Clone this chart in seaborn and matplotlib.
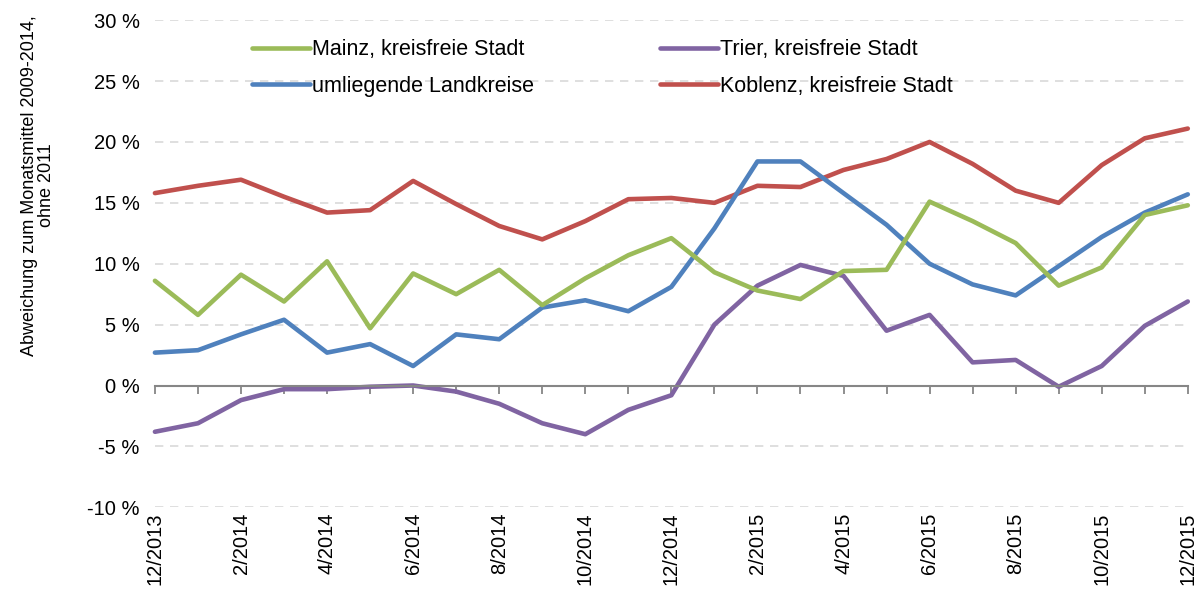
import numpy as np
import pandas as pd
import matplotlib
matplotlib.use("Agg")
import matplotlib.pyplot as plt
import seaborn as sns

# ── Data ─────────────────────────────────────────────────────────────────────
MONTHS = ["12/2013", "1/2014", "2/2014", "3/2014", "4/2014", "5/2014", "6/2014",
          "7/2014", "8/2014", "9/2014", "10/2014", "11/2014", "12/2014",
          "1/2015", "2/2015", "3/2015", "4/2015", "5/2015", "6/2015",
          "7/2015", "8/2015", "9/2015", "10/2015", "11/2015", "12/2015"]

MAINZ = [8.6, 5.8, 9.1, 6.9, 10.2, 4.7, 9.2, 7.5, 9.5, 6.6, 8.8, 10.7, 12.1,
         9.3, 7.8, 7.1, 9.4, 9.5, 15.1, 13.5, 11.7, 8.2, 9.7, 14.0, 14.8]
TRIER = [-3.8, -3.1, -1.2, -0.3, -0.3, -0.1, 0.0, -0.5, -1.5, -3.1, -4.0, -2.0, -0.8,
         5.0, 8.2, 9.9, 9.0, 4.5, 5.8, 1.9, 2.1, -0.1, 1.6, 4.9, 6.9]
LANDKREISE = [2.7, 2.9, 4.2, 5.4, 2.7, 3.4, 1.6, 4.2, 3.8, 6.4, 7.0, 6.1, 8.1,
              12.9, 18.4, 18.4, 15.8, 13.2, 10.0, 8.3, 7.4, 9.8, 12.2, 14.2, 15.7]
KOBLENZ = [15.8, 16.4, 16.9, 15.5, 14.2, 14.4, 16.8, 14.9, 13.1, 12.0, 13.5, 15.3, 15.4,
           15.0, 16.4, 16.3, 17.7, 18.6, 20.0, 18.2, 16.0, 15.0, 18.1, 20.3, 21.1]

SERIES = {
    "Mainz, kreisfreie Stadt": MAINZ,
    "umliegende Landkreise": LANDKREISE,
    "Trier, kreisfreie Stadt": TRIER,
    "Koblenz, kreisfreie Stadt": KOBLENZ,
}
COLORS = {
    "Mainz, kreisfreie Stadt": "#9BBB59",
    "umliegende Landkreise": "#4F81BD",
    "Trier, kreisfreie Stadt": "#8064A2",
    "Koblenz, kreisfreie Stadt": "#C0504D",
}
# draw order (back to front)
DRAW_ORDER = ["Koblenz, kreisfreie Stadt", "Trier, kreisfreie Stadt",
              "umliegende Landkreise", "Mainz, kreisfreie Stadt"]

# ── Style ────────────────────────────────────────────────────────────────────
sns.set_theme(style="white")
plt.rcParams["font.family"] = ["Liberation Sans", "DejaVu Sans"]
plt.rcParams["text.color"] = "black"
plt.rcParams["xtick.color"] = "black"
plt.rcParams["ytick.color"] = "black"
plt.rcParams["axes.labelcolor"] = "black"
FS = 14.5

rows = []
for name, vals in SERIES.items():
    for i, v in enumerate(vals):
        rows.append({"pos": i, "month": MONTHS[i], "value": v, "series": name})
df = pd.DataFrame(rows)

fig, ax = plt.subplots(figsize=(12.01, 5.94), dpi=100)
fig.subplots_adjust(left=0.129, right=0.989, top=0.966, bottom=0.146)

for name in DRAW_ORDER:
    sub = df[df["series"] == name]
    sns.lineplot(data=sub, x="pos", y="value", color=COLORS[name], lw=3.3,
                 ax=ax, label=name, sort=False, clip_on=False)

ax.set_xlim(0, len(MONTHS) - 1)
ax.set_ylim(-10, 30)
ax.set_yticks(np.arange(-10, 31, 5))
ax.set_yticklabels([f"{v} %" for v in range(-10, 31, 5)], fontsize=FS)
ax.yaxis.grid(True, color="#D9D9D9", linestyle=(0, (5, 4)), lw=1.2)
ax.xaxis.grid(False)
ax.tick_params(axis="y", length=0, pad=11)

for side in ["top", "right", "left"]:
    ax.spines[side].set_visible(False)
ax.spines["bottom"].set_position(("data", 0))
ax.spines["bottom"].set_color("#868686")
ax.spines["bottom"].set_linewidth(1.5)
ax.set_xticks(range(len(MONTHS)))
ax.set_xticklabels([])
ax.tick_params(axis="x", bottom=True, direction="out", length=6, width=1.3,
               color="#868686")
ax.set_xlabel("")

sec = ax.secondary_xaxis("bottom")
sec.set_xticks(range(0, len(MONTHS), 2))
sec.set_xticklabels(MONTHS[::2], rotation=90, fontsize=FS)
sec.tick_params(length=0, pad=4)
sec.spines["bottom"].set_visible(False)

ax.set_ylabel("Abweichung zum Monatsmittel 2009-2014,\nohne 2011", fontsize=13.0,
              linespacing=0.95)
ax.yaxis.set_label_coords(-0.097, 0.661)

handles, labels = ax.get_legend_handles_labels()
lookup = dict(zip(labels, handles))
order = ["Mainz, kreisfreie Stadt", "umliegende Landkreise",
         "Trier, kreisfreie Stadt", "Koblenz, kreisfreie Stadt"]
ax.legend([lookup[k] for k in order], order, ncol=2, frameon=False,
          fontsize=15.5, loc="upper left", bbox_to_anchor=(0.075, 1.001),
          handlelength=2.7, handletextpad=0.1, columnspacing=5.85,
          labelspacing=0.72)

fig.savefig("out.png", dpi=100)
